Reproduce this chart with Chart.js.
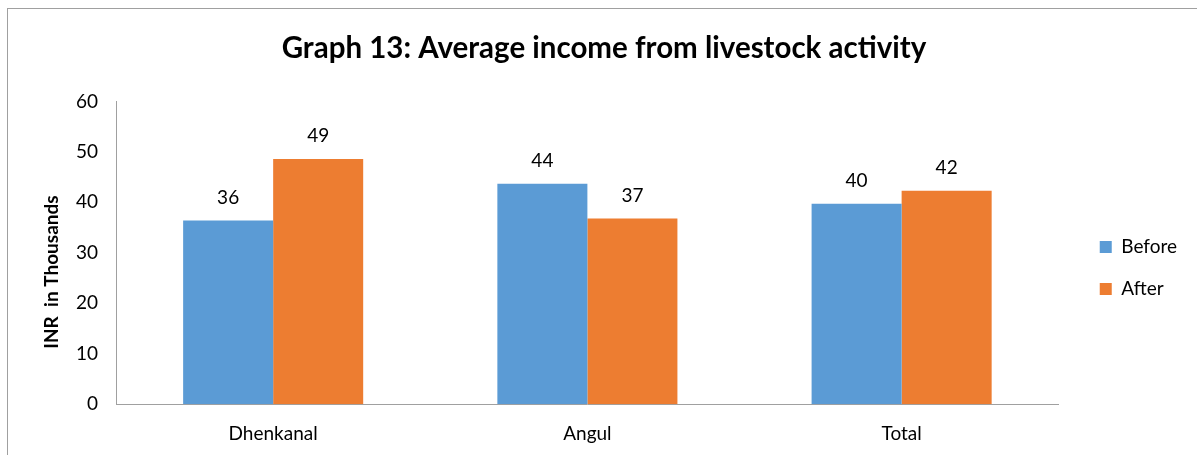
<!DOCTYPE html>
<html><head><meta charset="utf-8">
<script src="https://cdn.jsdelivr.net/npm/chart.js@4/dist/chart.umd.min.js"></script>
<style>html,body{margin:0;padding:0;background:#fff;}#wrap{position:relative;width:1197px;height:455px;}</style>
</head><body><div id="wrap"><canvas id="c" width="1197" height="455"></canvas></div>
<script>
const categories = ["Dhenkanal", "Angul", "Total"];
const beforeValues = [36.4, 43.7, 39.7];
const afterValues = [48.6, 36.8, 42.3];
const yTicks = [0, 10, 20, 30, 40, 50, 60];
const yTitle = "INR  in Thousands";
const FONT = "Lato, 'Open Sans', sans-serif";

const frame = {
  id: 'frame',
  beforeDraw(chart) {
    const ctx = chart.ctx;
    ctx.save();
    ctx.fillStyle = '#fff';
    ctx.fillRect(0, 0, chart.width, chart.height);
    ctx.strokeStyle = '#a0a0a0';
    ctx.lineWidth = 1;
    ctx.strokeRect(7.5, 8.5, 1400, 700);
    ctx.restore();
  }
};
// fine-tune placement of title and legend blocks
const nudge = {
  id: 'nudge',
  afterLayout(chart) {
    const t = chart.titleBlock;
    if (t) { t.left -= 9.5; t.right -= 9.5; }
    const l = chart.legend;
    if (l) { l.left += 18; l.right += 18; l.top += 21; l.bottom += 21; }
  }
};
const yAxisTitle = {
  id: 'yAxisTitle',
  afterDraw(chart) {
    const ctx = chart.ctx;
    ctx.save();
    ctx.translate(52, 272);
    ctx.rotate(-Math.PI / 2);
    ctx.font = "bold 19px " + FONT;
    ctx.fillStyle = '#000';
    ctx.textAlign = 'center';
    ctx.textBaseline = 'middle';
    ctx.fillText(yTitle, 0, 0);
    ctx.restore();
  }
};
const dataLabels = {
  id: 'dataLabels',
  afterDatasetsDraw(chart) {
    const ctx = chart.ctx;
    ctx.save();
    ctx.font = "19px " + FONT;
    ctx.fillStyle = '#000';
    ctx.textAlign = 'center';
    ctx.textBaseline = 'middle';
    chart.data.datasets.forEach((ds, i) => {
      chart.getDatasetMeta(i).data.forEach((bar, j) => {
        ctx.fillText(String(Math.round(ds.data[j])), bar.x, bar.y - 23);
      });
    });
    ctx.restore();
  }
};

new Chart(document.getElementById('c'), {
  type: 'bar',
  data: {
    labels: categories,
    datasets: [
      { label: 'Before', data: beforeValues, backgroundColor: '#5B9BD5' },
      { label: 'After', data: afterValues, backgroundColor: '#ED7D31' }
    ]
  },
  options: {
    responsive: false,
    animation: false,
    devicePixelRatio: 1,
    layout: { padding: { top: 31, left: 58, right: 28, bottom: -8 } },
    datasets: { bar: { categoryPercentage: 0.573, barPercentage: 1.0 } },
    plugins: {
      title: {
        display: true,
        text: 'Graph 13: Average income from livestock activity',
        font: { family: FONT, size: 29.5, weight: 'bold' },
        color: '#000',
        padding: { top: 0, bottom: 35 }
      },
      legend: {
        position: 'right',
        labels: {
          boxWidth: 12, boxHeight: 12,
          font: { family: FONT, size: 19 },
          color: '#000',
          padding: 23
        }
      },
      tooltip: { enabled: false }
    },
    scales: {
      x: {
        grid: { display: false, drawTicks: false },
        border: { display: true, color: '#a0a0a0' },
        ticks: { font: { family: FONT, size: 19 }, color: '#000', padding: 18 }
      },
      y: {
        min: 0, max: 60,
        afterBuildTicks(axis) { axis.ticks = yTicks.map(v => ({ value: v })); },
        grid: { display: false, drawTicks: false },
        border: { display: true, color: '#a0a0a0' },
        ticks: { font: { family: FONT, size: 19 }, color: '#000', padding: 18 }
      }
    }
  },
  plugins: [frame, nudge, yAxisTitle, dataLabels]
});
</script></body></html>
